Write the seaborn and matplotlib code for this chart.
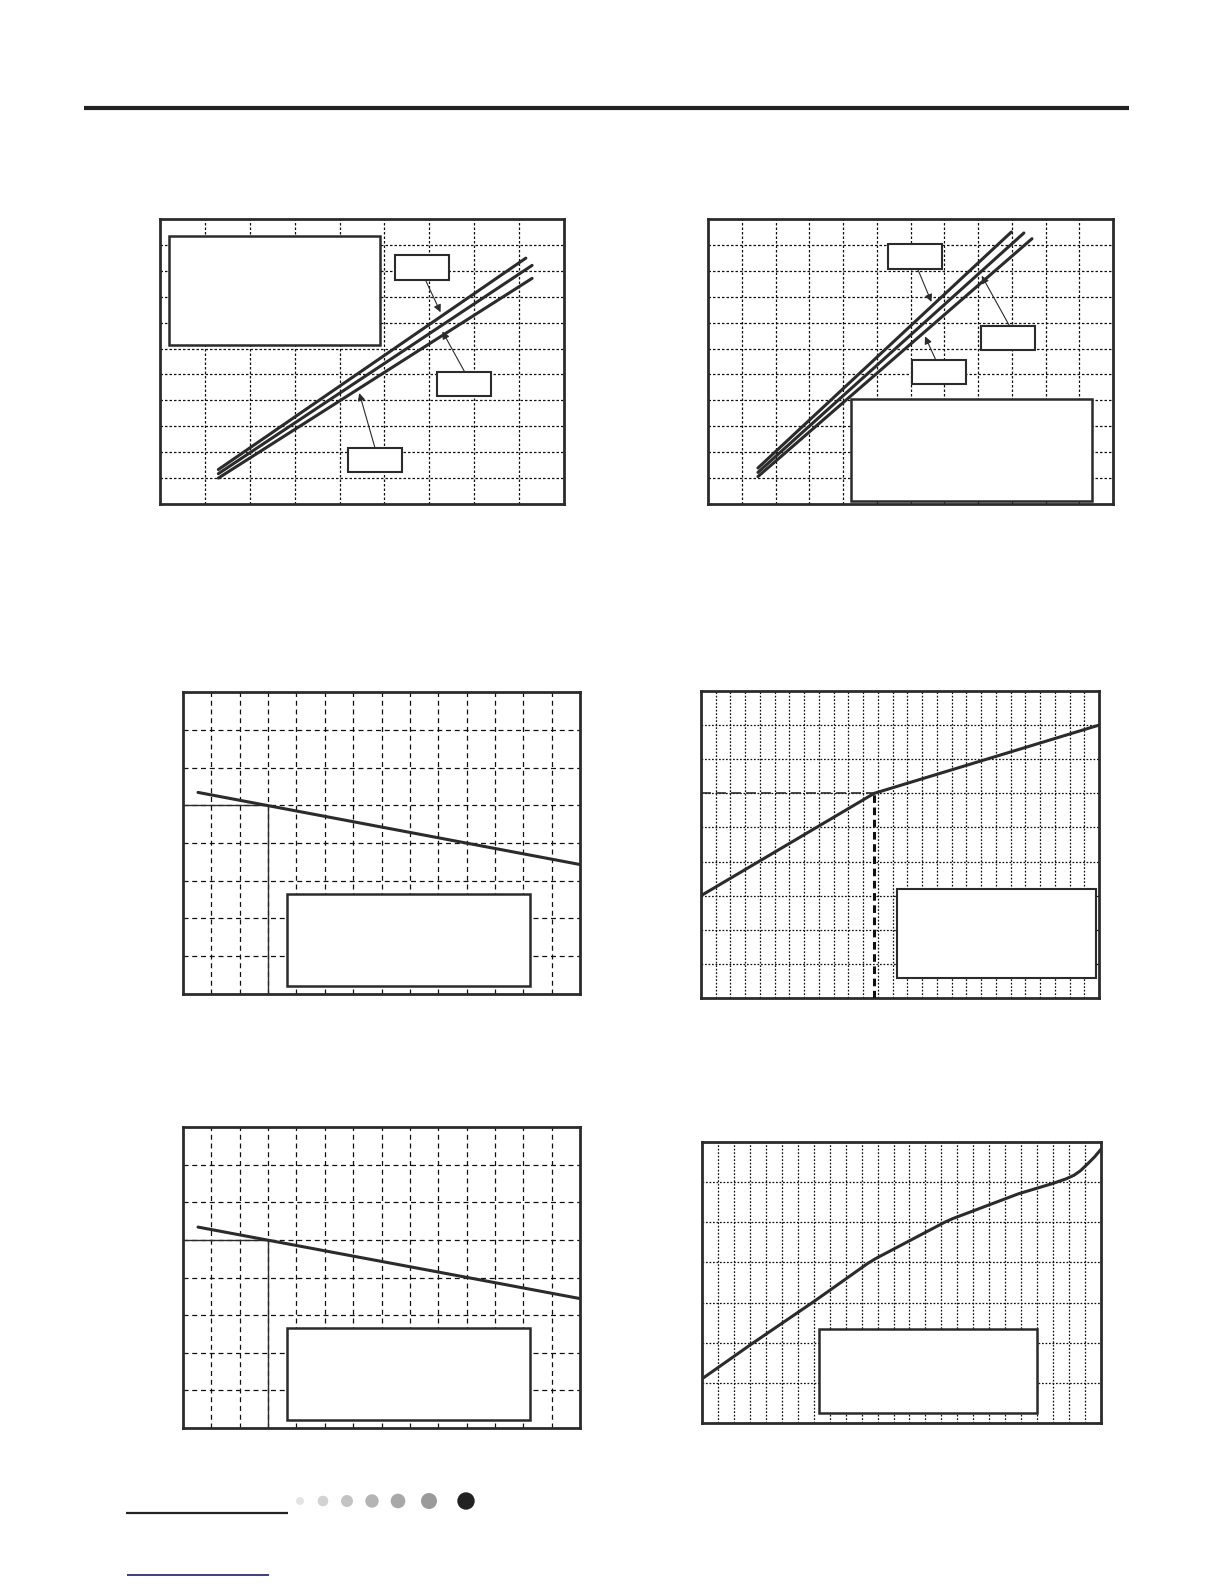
import numpy as np
import pandas as pd
import seaborn as sns
import matplotlib.pyplot as plt
from matplotlib.patches import Rectangle

sns.set_theme(style="white")
plt.rcParams['font.family'] = ['DejaVu Sans']

W, H = 1224, 1584
INK = '#2b2b2b'

# chart 1 (top left) - three rising lines, grid 9 x 11
c1_a_x = [1.30, 8.15]
c1_a_y = [1.33, 9.49]
c1_b_x = [1.30, 8.29]
c1_b_y = [1.17, 9.21]
c1_c_x = [1.30, 8.29]
c1_c_y = [1.00, 8.71]

# chart 2 (top right) - three rising lines, grid 12 x 11
c2_a_x = [1.48, 8.99]
c2_a_y = [1.39, 10.50]
c2_b_x = [1.48, 9.36]
c2_b_y = [1.22, 10.46]
c2_c_x = [1.48, 9.60]
c2_c_y = [1.06, 10.24]

# chart 3 (middle left) - falling line, grid 14 x 8
c3_x = [0.53, 14.0]
c3_y = [5.34, 3.43]

# chart 4 (middle right) - line with a knee, grid 27 x 9
c4_x = [0.0, 11.75, 27.0]
c4_y = [3.0, 6.0, 8.0]

# chart 5 (bottom left) - falling line, grid 14 x 8
c5_x = [0.53, 14.0]
c5_y = [5.34, 3.44]

# chart 6 (bottom right) - rising curve, grid 25 x 7
c6_x = [0.0, 3.13, 6.99, 10.4, 10.9, 15.2, 15.7, 19.83, 22.0, 22.8, 23.3, 23.7, 24.2, 24.6, 25.0]
c6_y = [1.10, 1.975, 3.02, 3.98, 4.10, 5.00, 5.09, 5.71, 5.97, 6.08, 6.17, 6.28, 6.47, 6.63, 6.82]

# footer dots
dot_x = [300, 323, 347, 372, 398, 429, 466]
dot_r = [4.0, 5.3, 6.0, 6.7, 7.3, 8.0, 8.7]
dot_c = ['#e4e4e4', '#d2d2d2', '#c3c3c3', '#b4b4b4', '#a8a8a8', '#9a9a9a', '#222222']

fig = plt.figure(figsize=(W / 100, H / 100), dpi=100)
fig.patch.set_facecolor('white')


def make_ax(x0, y0, x1, y1, ncols, nrows, grid_ls):
    ax = fig.add_axes([x0 / W, 1 - y1 / H, (x1 - x0) / W, (y1 - y0) / H])
    ax.set_xlim(0, ncols)
    ax.set_ylim(0, nrows)
    ax.set_xticks(range(1, ncols))
    ax.set_yticks(range(1, nrows))
    ax.tick_params(length=0, labelbottom=False, labelleft=False)
    ax.grid(True, color='#111111', linestyle=grid_ls, linewidth=0.9)
    for s in ax.spines.values():
        s.set_color(INK)
        s.set_linewidth(2.0)
    ax.set_facecolor('white')
    return ax


def curve(ax, xs, ys):
    sns.lineplot(x=xs, y=ys, ax=ax, color=INK, linewidth=2.2, estimator=None, sort=False, zorder=4)


def box(ax, x0, y0, x1, y1, lw=1.8):
    ax.add_patch(Rectangle((x0, y0), x1 - x0, y1 - y0, facecolor='white',
                           edgecolor=INK, linewidth=lw, zorder=5))


def arrow(ax, tail, head):
    ax.annotate('', xy=head, xytext=tail,
                arrowprops=dict(arrowstyle='-|>', lw=0.8, color=INK, mutation_scale=11,
                                shrinkA=0, shrinkB=0), zorder=6)


dotgrid = (0, (2.0, 1.6))
dashgrid = (0, (4.0, 3.0))
finegrid = (0, (1.4, 1.4))

# chart 1
ax1 = make_ax(160, 219, 564, 504, 9, 11, dotgrid)
for xs, ys in [(c1_a_x, c1_a_y), (c1_b_x, c1_b_y), (c1_c_x, c1_c_y)]:
    curve(ax1, xs, ys)
box(ax1, 0.20, 6.15, 4.90, 10.33)
box(ax1, 5.24, 8.66, 6.44, 9.60, lw=1.5)
box(ax1, 6.17, 4.17, 7.37, 5.09, lw=1.5)
box(ax1, 4.19, 1.24, 5.39, 2.16, lw=1.5)
arrow(ax1, (5.91, 8.66), (6.25, 7.40))
arrow(ax1, (6.79, 5.09), (6.29, 6.66))
arrow(ax1, (4.79, 2.16), (4.44, 4.28))

# chart 2
ax2 = make_ax(708, 219, 1113, 504, 12, 11, dotgrid)
for xs, ys in [(c2_a_x, c2_a_y), (c2_b_x, c2_b_y), (c2_c_x, c2_c_y)]:
    curve(ax2, xs, ys)
box(ax2, 4.23, 0.10, 11.38, 4.06)
box(ax2, 5.34, 9.08, 6.94, 10.03, lw=1.5)
box(ax2, 8.10, 5.95, 9.70, 6.86, lw=1.5)
box(ax2, 6.03, 4.64, 7.63, 5.56, lw=1.5)
arrow(ax2, (6.21, 9.08), (6.62, 7.80))
arrow(ax2, (8.94, 6.86), (8.11, 8.81))
arrow(ax2, (6.75, 5.56), (6.43, 6.47))

# chart 3
ax3 = make_ax(183, 692, 580, 994, 14, 8, dashgrid)
ax3.plot([0, 3], [5, 5], color=INK, linewidth=1.0, zorder=3)
ax3.plot([3, 3], [0, 5], color=INK, linewidth=1.0, zorder=3)
curve(ax3, c3_x, c3_y)
box(ax3, 3.67, 0.20, 12.25, 2.65)

# chart 4
ax4 = make_ax(701, 691, 1099, 998, 27, 9, finegrid)
ax4.plot([0, c4_x[1]], [c4_y[1], c4_y[1]], color=INK, linewidth=1.2,
         linestyle=(0, (6, 3)), zorder=3)
ax4.plot([c4_x[1], c4_x[1]], [0, c4_y[1]], color='#111111', linewidth=2.2,
         linestyle=(0, (2.5, 1.5)), zorder=3)
curve(ax4, c4_x, c4_y)
box(ax4, 13.33, 0.59, 26.77, 3.19, lw=1.5)

# chart 5
ax5 = make_ax(183, 1127, 580, 1428, 14, 8, dashgrid)
ax5.plot([0, 3], [5, 5], color=INK, linewidth=1.0, zorder=3)
ax5.plot([3, 3], [0, 5], color=INK, linewidth=1.0, zorder=3)
curve(ax5, c5_x, c5_y)
box(ax5, 3.67, 0.21, 12.25, 2.66)

# chart 6
ax6 = make_ax(702, 1142, 1101, 1423, 25, 7, finegrid)
curve(ax6, c6_x, c6_y)
box(ax6, 7.33, 0.24, 21.0, 2.35)

# page decoration
page = fig.add_axes([0, 0, 1, 1], zorder=-1)
page.set_xlim(0, W)
page.set_ylim(H, 0)
page.axis('off')
page.plot([84, 1129], [108, 108], color='#222222', linewidth=3.0, solid_capstyle='butt')
page.plot([126, 288], [1513, 1513], color='#222222', linewidth=1.6, solid_capstyle='butt')
page.plot([127, 269], [1575, 1575], color='#1a1a7a', linewidth=1.2, solid_capstyle='butt')
page.scatter(dot_x, [1501] * len(dot_x), s=[(2 * r * 0.72) ** 2 for r in dot_r],
             c=dot_c, linewidths=0)

fig.savefig('out.png', dpi=100)
